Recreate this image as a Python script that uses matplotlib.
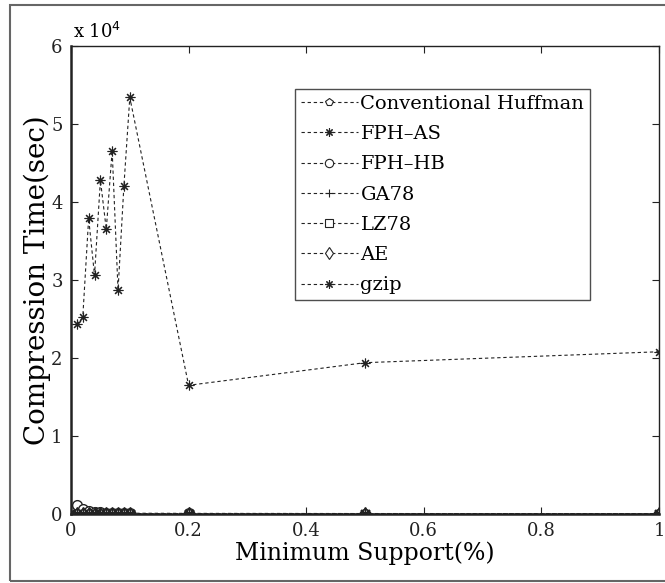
import matplotlib

matplotlib.use("Agg")
import matplotlib.pyplot as plt
from matplotlib.patches import Rectangle

# minimum support (%) values on the x axis
support = [0.01, 0.02, 0.03, 0.04, 0.05, 0.06, 0.07, 0.08, 0.09, 0.1, 0.2, 0.5, 1.0]

# compression time (sec) per method
conv_huffman = [90, 80, 70, 70, 60, 60, 60, 50, 50, 50, 40, 30, 30]
fph_as = [24300, 25200, 37900, 30600, 42800, 36500, 46600, 28700, 42100, 53400,
          16500, 19400, 20800]
fph_hb = [1150, 650, 350, 250, 200, 150, 150, 120, 100, 100, 80, 60, 50]
ga78 = [40, 40, 40, 40, 40, 40, 40, 40, 40, 40, 40, 40, 40]
lz78 = [20, 20, 20, 20, 20, 20, 20, 20, 20, 20, 20, 20, 20]
ae = [30, 30, 30, 30, 30, 30, 30, 30, 30, 30, 30, 30, 30]
gzip = [10, 10, 10, 10, 10, 10, 10, 10, 10, 10, 10, 10, 10]

xticks = [0, 0.2, 0.4, 0.6, 0.8, 1]
xtick_labels = ["0", "0.2", "0.4", "0.6", "0.8", "1"]
yticks = [0, 10000, 20000, 30000, 40000, 50000, 60000]
ytick_labels = ["0", "1", "2", "3", "4", "5", "6"]

ASTERISK = (8, 2, 0)
SERIES = [
    ("Conventional Huffman", conv_huffman, dict(marker="p", ms=7, mfc="white")),
    ("FPH\u2013AS", fph_as, dict(marker=ASTERISK, ms=7, mew=0.8)),
    ("FPH\u2013HB", fph_hb, dict(marker="o", ms=7, mfc="white")),
    ("GA78", ga78, dict(marker="+", ms=8)),
    ("LZ78", lz78, dict(marker="s", ms=6, mfc="white")),
    ("AE", ae, dict(marker="d", ms=7, mfc="white")),
    ("gzip", gzip, dict(marker=ASTERISK, ms=9)),
]

plt.rcParams["font.family"] = ["DejaVu Serif"]

fig = plt.figure(figsize=(6.65, 5.83), dpi=100)
ax = fig.add_axes([71 / 665, 69 / 583, 588 / 665, 468 / 583])

for label, vals, style in SERIES:
    style = dict(style)
    mew = style.pop("mew", 1.0)
    ax.plot(support, vals, color="#222222", ls=(0, (3, 2.5)), lw=0.8, mec="#222222",
            mew=mew, label=label, **style)

ax.set_xlim(0, 1)
ax.set_ylim(0, 60000)
ax.set_xticks(xticks)
ax.set_xticklabels(xtick_labels)
ax.set_yticks(yticks)
ax.set_yticklabels(ytick_labels)
ax.tick_params(direction="in", top=True, right=True, labelsize=13, length=5,
               pad=6, colors="#222222")
for s in ax.spines.values():
    s.set_linewidth(1.0)
    s.set_color("#222222")
ax.spines["left"].set_linewidth(1.8)
ax.spines["bottom"].set_linewidth(1.8)

ax.set_xlabel("Minimum Support(%)", fontsize=17, labelpad=1)
ax.set_ylabel("Compression Time(sec)", fontsize=20, labelpad=0)
ax.text(0.003, 1.008, "x 10$^4$", transform=ax.transAxes, fontsize=13,
        ha="left", va="bottom")

leg = ax.legend(loc="upper right", bbox_to_anchor=(0.883, 0.908), fontsize=14,
                frameon=True, fancybox=False, handlelength=2.9, handletextpad=0.15,
                labelspacing=0.63, borderpad=0.3, borderaxespad=0)
leg.get_frame().set_edgecolor("#222222")
leg.get_frame().set_linewidth(1.0)
for h in leg.legend_handles:
    h.set_markersize(6)
    h.set_markeredgewidth(0.8)

# gray outer frame around the figure
fig.patches.append(Rectangle((10 / 665, 2 / 583), 660 / 665, 576 / 583,
                             transform=fig.transFigure, fill=False,
                             edgecolor="#666666", lw=1.5))

fig.savefig("out.png", dpi=100)
